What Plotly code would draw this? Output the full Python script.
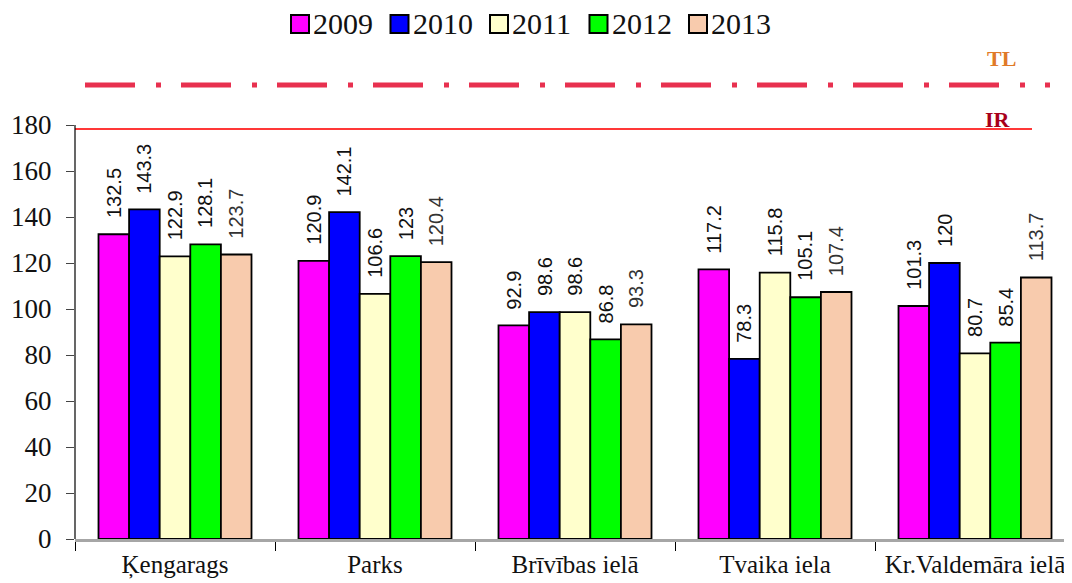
import plotly.graph_objects as go

categories = ["Ķengarags", "Parks", "Brīvības ielā", "Tvaika iela", "Kr.Valdemāra ielā"]
years = ["2009", "2010", "2011", "2012", "2013"]
v2009 = [132.5, 120.9, 92.9, 117.2, 101.3]
v2010 = [143.3, 142.1, 98.6, 78.3, 120]
v2011 = [122.9, 106.6, 98.6, 115.8, 80.7]
v2012 = [128.1, 123, 86.8, 105.1, 85.4]
v2013 = [123.7, 120.4, 93.3, 107.4, 113.7]
series = [v2009, v2010, v2011, v2012, v2013]
colors = ["#FF00FF", "#0000FF", "#FFFFCC", "#00FF00", "#F8CBAD"]
yticks = [0, 20, 40, 60, 80, 100, 120, 140, 160, 180]
IR_value = 178.3
TL_value = 197.4

# Page body has an 8px margin; figure geometry accounts for it.
W, H = 1072, 583
ML, MR, MT, MB = 67, 5, 52, 52
PW = W - ML - MR
PH = H - MT - MB

fig = go.Figure()
for name, vals, col in zip(years, series, colors):
    fig.add_trace(go.Bar(
        x=categories, y=vals, name=name, showlegend=False,
        marker=dict(color=col, line=dict(color="black", width=1.8)),
    ))

# value labels
n = len(years)
group = 0.765
bw = group / n
for i, vals in enumerate(series):
    off = -group / 2 + bw * (i + 0.5)
    for j, v in enumerate(vals):
        fig.add_annotation(
            x=j + off, y=v, xref="x", yref="y",
            text=f"{v:g}", textangle=-90, showarrow=False,
            xanchor="center", yanchor="bottom", yshift=14,
            font=dict(family="Liberation Sans, Arial", size=20,
                      color="#111111" if i < 4 else "#333333"),
        )

# limit lines
fig.add_shape(type="line", xref="paper", yref="y", x0=0, x1=0.957,
              y0=IR_value, y1=IR_value, line=dict(color="#FF3838", width=2))
fig.add_shape(type="line", xref="paper", yref="y", x0=0.01, x1=0.975,
              y0=TL_value, y1=TL_value,
              line=dict(color="#E8304F", width=5, dash="50px,21px,5px,20px"))
# y axis line
fig.add_shape(type="line", xref="paper", yref="y", x0=0, x1=0, y0=0, y1=180,
              line=dict(color="black", width=1.2))

fig.add_annotation(x=(1001 - 75) / PW, y=(539 - 58) / PH, xref="paper", yref="paper",
                   text="<b>TL</b>", showarrow=False, xanchor="center", yanchor="middle",
                   font=dict(family="Liberation Serif", size=22, color="#E07A28"))
fig.add_annotation(x=(998 - 75) / PW, y=(539 - 119) / PH, xref="paper", yref="paper",
                   text="<b>IR</b>", showarrow=False, xanchor="center", yanchor="middle",
                   font=dict(family="Liberation Serif", size=22, color="#A8001A"))

# manual legend (screen positions converted to paper coords)
leg_x0 = 291
leg_step = 99.5
sq = 18
leg_cy = 24
for i, (name, col) in enumerate(zip(years, colors)):
    left = leg_x0 + leg_step * i
    x0 = (left - 75) / PW
    x1 = (left + sq - 75) / PW
    y0 = (539 - (leg_cy + sq / 2)) / PH
    y1 = (539 - (leg_cy - sq / 2)) / PH
    fig.add_shape(type="rect", xref="paper", yref="paper", x0=x0, x1=x1, y0=y0, y1=y1,
                  fillcolor=col, line=dict(color="black", width=2))
    fig.add_annotation(x=(left + sq + 2 - 75) / PW, y=(539 - leg_cy) / PH,
                       xref="paper", yref="paper", text=name, showarrow=False,
                       xanchor="left", yanchor="middle",
                       font=dict(family="Liberation Serif", size=30, color="#111111"))

fig.update_layout(
    width=W, height=H,
    margin=dict(l=ML, r=MR, t=MT, b=MB, autoexpand=False),
    paper_bgcolor="white", plot_bgcolor="white",
    barmode="group", bargap=0.235, bargroupgap=0,
    showlegend=False,
    xaxis=dict(type="category", range=[-0.5, 4.5], showline=True, linecolor="#A6A6A6",
               linewidth=3, ticks="outside", tickson="boundaries", ticklen=9,
               tickcolor="black", tickwidth=1.2, showgrid=False, zeroline=False,
               tickangle=0, automargin=False,
               tickfont=dict(family="Liberation Serif", size=25, color="#111111"),
               ticklabelstandoff=1),
    yaxis=dict(range=[0, 479 / 2.3], tickvals=yticks, showline=False, showgrid=False,
               zeroline=False, ticks="outside", ticklen=8, tickcolor="#444444", tickwidth=1.2,
               automargin=False,
               tickfont=dict(family="Liberation Serif", size=27, color="#111111"),
               ticklabelstandoff=9),
)

fig.write_html("out.html")
